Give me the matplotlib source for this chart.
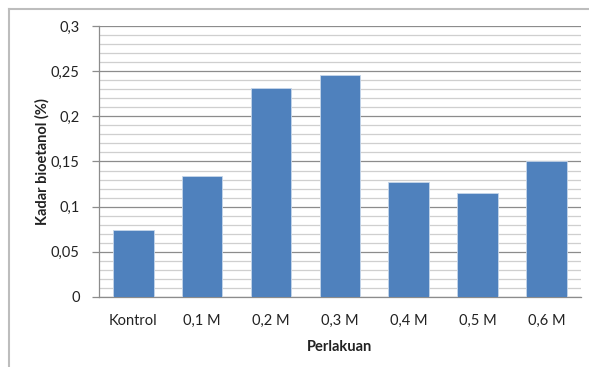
import matplotlib.pyplot as plt
from matplotlib.lines import Line2D
from matplotlib.ticker import MultipleLocator

plt.rcParams['font.family'] = ['Lato', 'DejaVu Sans']

perlakuan = ["Kontrol", "0,1 M", "0,2 M", "0,3 M", "0,4 M", "0,5 M", "0,6 M"]
kadar = [0.074, 0.134, 0.231, 0.246, 0.127, 0.115, 0.150]
y_ticks = [0, 0.05, 0.1, 0.15, 0.2, 0.25, 0.3]
y_labels = ["0", "0,05", "0,1", "0,15", "0,2", "0,25", "0,3"]

fig = plt.figure(figsize=(5.89, 3.67), dpi=100)
ax = fig.add_axes([0.168, 0.191, 0.818, 0.738])

x = range(len(perlakuan))
ax.bar(x, kadar, width=0.59, color="#4f81bd", edgecolor="#c6d6ea",
       linewidth=0.6, zorder=3)

ax.set_xlim(-0.5, len(perlakuan) - 0.5)
ax.set_ylim(0, 0.3)
ax.set_yticks(y_ticks)
ax.set_yticklabels(y_labels)
ax.yaxis.set_minor_locator(MultipleLocator(0.01))
ax.set_xticks(list(x))
ax.set_xticklabels(perlakuan)

# gridlines: dark every 0.05, light every 0.01
ax.grid(axis="y", which="major", color="#8c8c8c", linewidth=0.9, zorder=1)
ax.grid(axis="y", which="minor", color="#cfcfcf", linewidth=0.9, zorder=0)
ax.tick_params(axis="y", which="major", length=5, width=0.9, color="#8c8c8c",
               labelsize=10.5, pad=9, colors="#222222")
ax.tick_params(axis="y", which="minor", length=0)
ax.tick_params(axis="x", length=0, labelsize=10.5, pad=12, colors="#222222")

for side in ["top", "right"]:
    ax.spines[side].set_visible(False)
ax.spines["left"].set_color("#8c8c8c")
ax.spines["bottom"].set_color("#8c8c8c")
ax.spines["left"].set_linewidth(0.9)
ax.spines["bottom"].set_linewidth(0.9)

ax.set_xlabel("Perlakuan", fontsize=10.5, fontweight="bold", labelpad=9,
              color="#222222")
ax.set_ylabel("Kadar bioetanol (%)", fontsize=10.5, fontweight="bold",
              labelpad=1, color="#222222")

# outer chart frame
fig.add_artist(Line2D([9 / 589, 1], [1 - 9 / 367, 1 - 9 / 367],
                      color="#bdbdbd", linewidth=1.5,
                      transform=fig.transFigure))
fig.add_artist(Line2D([9 / 589, 9 / 589], [0, 1 - 9 / 367],
                      color="#bdbdbd", linewidth=1.5,
                      transform=fig.transFigure))

fig.savefig("out.png", dpi=100)
